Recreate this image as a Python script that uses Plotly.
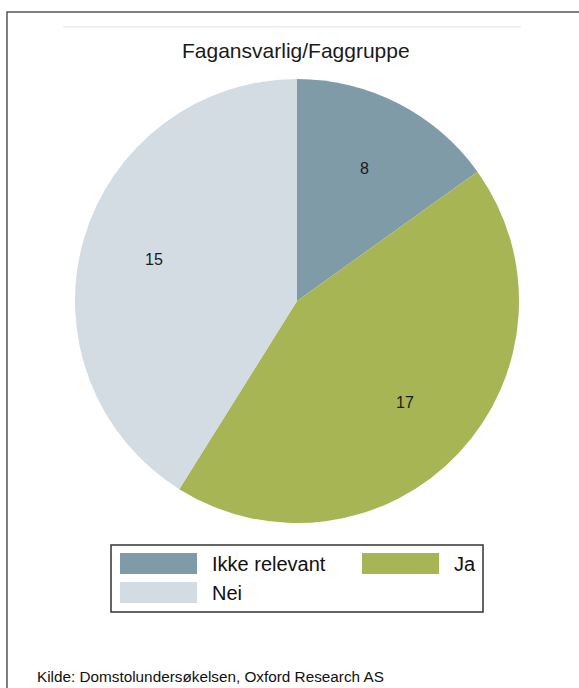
import math
import plotly.graph_objects as go

# Data
categories = ["Ikke relevant", "Ja", "Nei"]
slice_share = [15.1, 43.8, 41.1]   # angular share as drawn in the reference
count_labels = [8, 17, 15]          # numbers printed on the slices
colors = ["#7f9ba8", "#a8b555", "#d3dbe3"]
title_text = "Fagansvarlig/Faggruppe"
source_text = "Kilde: Domstolundersøkelsen, Oxford Research AS"

W, H = 579, 688
FONT = "Liberation Sans, Arial, sans-serif"

def px(x):
    return x / W

def py(y):
    return 1 - y / H

# pie circle: center (297,301), radius 222
cx, cy, r = 297, 301, 222
label_radius = 0.67

fig = go.Figure(go.Pie(
    labels=categories,
    values=slice_share,
    text=[str(c) for c in count_labels],
    textinfo="none",
    marker=dict(colors=colors, line=dict(width=0)),
    sort=False,
    direction="clockwise",
    rotation=0,
    showlegend=False,
    hoverinfo="label+text",
    domain=dict(x=[px(cx - r), px(cx + r)], y=[py(cy + r), py(cy - r)]),
))

shapes = []
annotations = []

# slice labels at the middle angle of each slice
total = sum(slice_share)
cum = 0.0
for v, c in zip(slice_share, count_labels):
    mid = (cum + v / 2) / total * 2 * math.pi
    cum += v
    lx = cx + label_radius * r * math.sin(mid)
    ly = cy - label_radius * r * math.cos(mid)
    annotations.append(dict(text=str(c), xref="paper", yref="paper",
                            x=px(lx), y=py(ly), xanchor="center", yanchor="middle",
                            showarrow=False, font=dict(family=FONT, size=16, color="#1a1a1a")))

# outer frame (left and top visible)
shapes.append(dict(type="rect", xref="paper", yref="paper",
                   x0=px(7), x1=px(W + 20), y0=py(H + 20), y1=py(12),
                   line=dict(color="#555555", width=1.5), fillcolor="rgba(0,0,0,0)", layer="above"))
# faint line above title
shapes.append(dict(type="line", xref="paper", yref="paper",
                   x0=px(63), x1=px(521), y0=py(27), y1=py(27),
                   line=dict(color="#e6ecee", width=1.5)))

# title
annotations.append(dict(text=title_text, xref="paper", yref="paper",
                        x=px(296), y=py(50), xanchor="center", yanchor="middle",
                        showarrow=False, font=dict(family=FONT, size=21, color="#1a1a1a")))

# legend box
shapes.append(dict(type="rect", xref="paper", yref="paper",
                   x0=px(111), x1=px(483), y0=py(612), y1=py(545),
                   line=dict(color="#333333", width=1.5), fillcolor="white"))
legend_pos = [(120, 553, 210), (362, 553, 452), (120, 582, 210)]
for (sx, sy, tx), name, col in zip(legend_pos, categories, colors):
    shapes.append(dict(type="rect", xref="paper", yref="paper",
                       x0=px(sx), x1=px(sx + 77), y0=py(sy + 21), y1=py(sy),
                       line=dict(width=0), fillcolor=col))
    annotations.append(dict(text=name, xref="paper", yref="paper",
                            x=px(tx), y=py(sy + 11), xanchor="left", yanchor="middle",
                            showarrow=False, font=dict(family=FONT, size=20, color="#111111")))

# source
annotations.append(dict(text=source_text, xref="paper", yref="paper",
                        x=px(35), y=py(676), xanchor="left", yanchor="middle",
                        showarrow=False, font=dict(family=FONT, size=15.3, color="#111111")))

fig.update_layout(
    width=W, height=H,
    margin=dict(l=0, r=0, t=0, b=0),
    paper_bgcolor="white",
    plot_bgcolor="white",
    shapes=shapes,
    annotations=annotations,
)

fig.write_html("out.html", config={"displayModeBar": False},
               post_script="document.body.style.margin='0';document.body.style.overflow='hidden';")
